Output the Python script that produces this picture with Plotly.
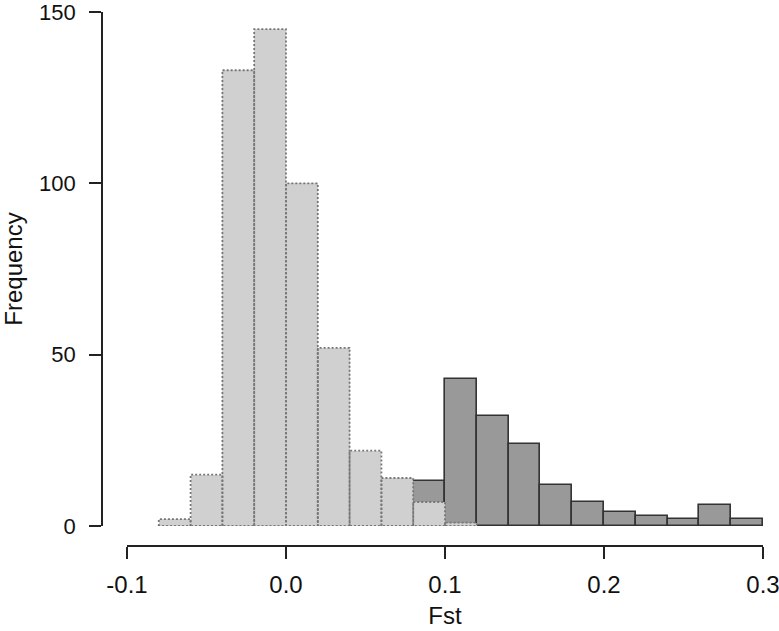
import plotly.graph_objects as go

# ---- data ----
bin_width = 0.02
light_left_edges = [-0.08, -0.06, -0.04, -0.02, 0.00, 0.02, 0.04, 0.06, 0.08, 0.10]
light_counts = [2, 15, 133, 145, 100, 52, 22, 14, 7, 1]

dark_left_edges = [0.08, 0.10, 0.12, 0.14, 0.16, 0.18, 0.20, 0.22, 0.24, 0.26, 0.28]
dark_counts = [13, 43, 32, 24, 12, 7, 4, 3, 2, 6, 2]

x_ticks = [-0.1, 0.0, 0.1, 0.2, 0.3]
x_tick_labels = ["-0.1", "0.0", "0.1", "0.2", "0.3"]
y_ticks = [0, 50, 100, 150]

FONT = "Liberation Sans, Arial, Helvetica, sans-serif"

fig = go.Figure()

# dark histogram (solid outline)
fig.add_trace(go.Bar(
    x=[e + bin_width / 2 for e in dark_left_edges],
    y=dark_counts,
    width=bin_width,
    marker=dict(color="#999999", line=dict(color="#333333", width=1.6)),
    hoverinfo="skip",
    showlegend=False,
))

# light histogram (fill only; dotted outline drawn below)
fig.add_trace(go.Bar(
    x=[e + bin_width / 2 for e in light_left_edges],
    y=light_counts,
    width=bin_width,
    marker=dict(color="#d0d0d0", line=dict(width=0)),
    hoverinfo="skip",
    showlegend=False,
))

# dotted outlines of the light histogram, derived from the bin edges and counts
ox, oy = [], []
for e, c in zip(light_left_edges, light_counts):
    ox += [e, e, e + bin_width, e + bin_width, e, None]
    oy += [0, c, c, 0, 0, None]
fig.add_trace(go.Scatter(
    x=ox, y=oy, mode="lines",
    line=dict(color="#777777", width=1.8, dash="2px,2px"),
    hoverinfo="skip", showlegend=False,
))

fig.update_layout(
    width=779, height=631,
    margin=dict(l=102, r=16, t=12, b=85, autoexpand=False),
    paper_bgcolor="white", plot_bgcolor="white",
    barmode="overlay", bargap=0,
    font=dict(family=FONT, size=22, color="#111111"),
    xaxis=dict(
        domain=[0.0378, 1], range=[-0.1, 0.3],
        anchor="free", position=0,
        tickvals=x_ticks, ticktext=x_tick_labels,
        tickfont=dict(size=24),
        showline=True, linecolor="#222222", linewidth=1.6,
        ticks="outside", ticklen=12, tickwidth=1.6, tickcolor="#222222",
        ticklabelstandoff=5, automargin=False, ticklabeloverflow="allow",
        showgrid=False, zeroline=False,
        title=dict(text="Fst", standoff=10, font=dict(size=24)),
    ),
    yaxis=dict(
        domain=[0.0375, 1], range=[0, 150],
        anchor="free", position=0,
        tickvals=y_ticks,
        tickfont=dict(size=22),
        showline=True, linecolor="#222222", linewidth=1.6,
        ticks="outside", ticklen=12, tickwidth=1.6, tickcolor="#222222",
        ticklabelstandoff=9, automargin=False, ticklabeloverflow="allow",
        showgrid=False, zeroline=False,
        title=dict(text="Frequency", standoff=16, font=dict(size=24)),
    ),
)

fig.write_html("out.html", config={"displayModeBar": False},
               post_script="document.body.style.margin='0';")
